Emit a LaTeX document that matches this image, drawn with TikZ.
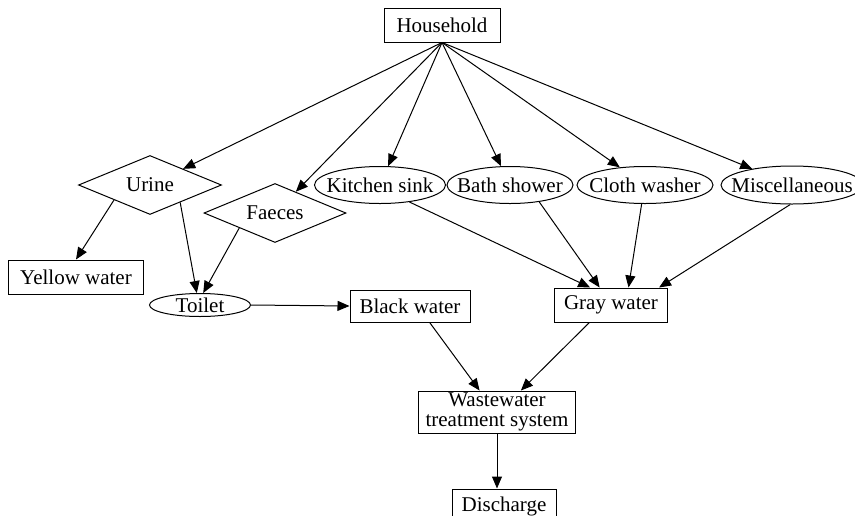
\documentclass[tikz,border=0pt]{standalone}
\usepackage{fontspec}
\setmainfont{Liberation Serif}
\usetikzlibrary{shapes.geometric,arrows.meta}
\begin{document}
\begin{tikzpicture}[x=1pt,y=-1pt,
  every node/.style={font=\fontsize{21}{20}\selectfont, inner sep=0pt, draw, line width=1pt},
  box/.style={rectangle},
  oval/.style={ellipse, inner xsep=-30pt, inner ysep=-8pt},
  dia/.style={diamond, aspect=2.4},
  flow/.style={-{Triangle[length=12pt,width=10pt]}, line width=1pt}
]
\path[use as bounding box, clip] (0,0) rectangle (855,515);

% nodes
\node[box, minimum width=116pt, minimum height=34pt] (hh) at (442,25) {Household};
\node[dia, minimum width=143pt, minimum height=59pt] (ur) at (150,185) {Urine};
\node[dia, minimum width=142pt, minimum height=59pt] (fa) at (275,213) {Faeces};
\node[oval, minimum width=131pt, minimum height=37pt] (ks) at (380,185) {Kitchen sink};
\node[oval, minimum width=126pt, minimum height=37pt] (bs) at (510,185) {Bath shower};
\node[oval, minimum width=136pt, minimum height=37pt] (cw) at (645,185) {Cloth washer};
\node[oval, minimum width=142pt, minimum height=38pt] (mi) at (792,185) {Miscellaneous};
\node[box, minimum width=135pt, minimum height=34pt] (yw) at (76,277) {Yellow water};
\node[oval, inner xsep=-10pt, minimum width=101pt, minimum height=23pt] (to) at (200,305) {Toilet};
\node[box, minimum width=120pt, minimum height=32pt] (bw) at (410,306) {Black water};
\node[box, minimum width=113pt, minimum height=34pt] (gw) at (611,305) {Gray water};
\node[box, minimum width=157pt, minimum height=42pt, align=center] (wt) at (497,412) {Wastewater\\treatment system};
\node[box, minimum width=104pt, minimum height=34pt] (di) at (504,506) {Discharge};

% connectors
\draw[flow] (hh.south) -- (ur);
\draw[flow] (hh.south) -- (fa);
\draw[flow] (hh.south) -- (ks);
\draw[flow] (hh.south) -- (bs);
\draw[flow] (hh.south) -- (cw);
\draw[flow] (hh.south) -- (mi);
\draw[flow] (ur.south west) -- (yw.north);
\draw[flow] (ur.-30) -- (to.105);
\draw[flow] (fa.south west) -- (to.75);
\draw[flow] (to.east) -- (bw.west);
\draw[flow] (ks.-30) -- (gw.140);
\draw[flow] (bs.-30) -- (gw.123);
\draw[flow] (cw.-100) -- (gw.45);
\draw[flow] (mi.-95) -- (gw.20);
\draw[flow] (bw.-40) -- (wt.129);
\draw[flow] (gw.-141) -- (wt.42);
\draw[flow] (wt.south) -- (wt.south |- di.north);
\end{tikzpicture}
\end{document}
